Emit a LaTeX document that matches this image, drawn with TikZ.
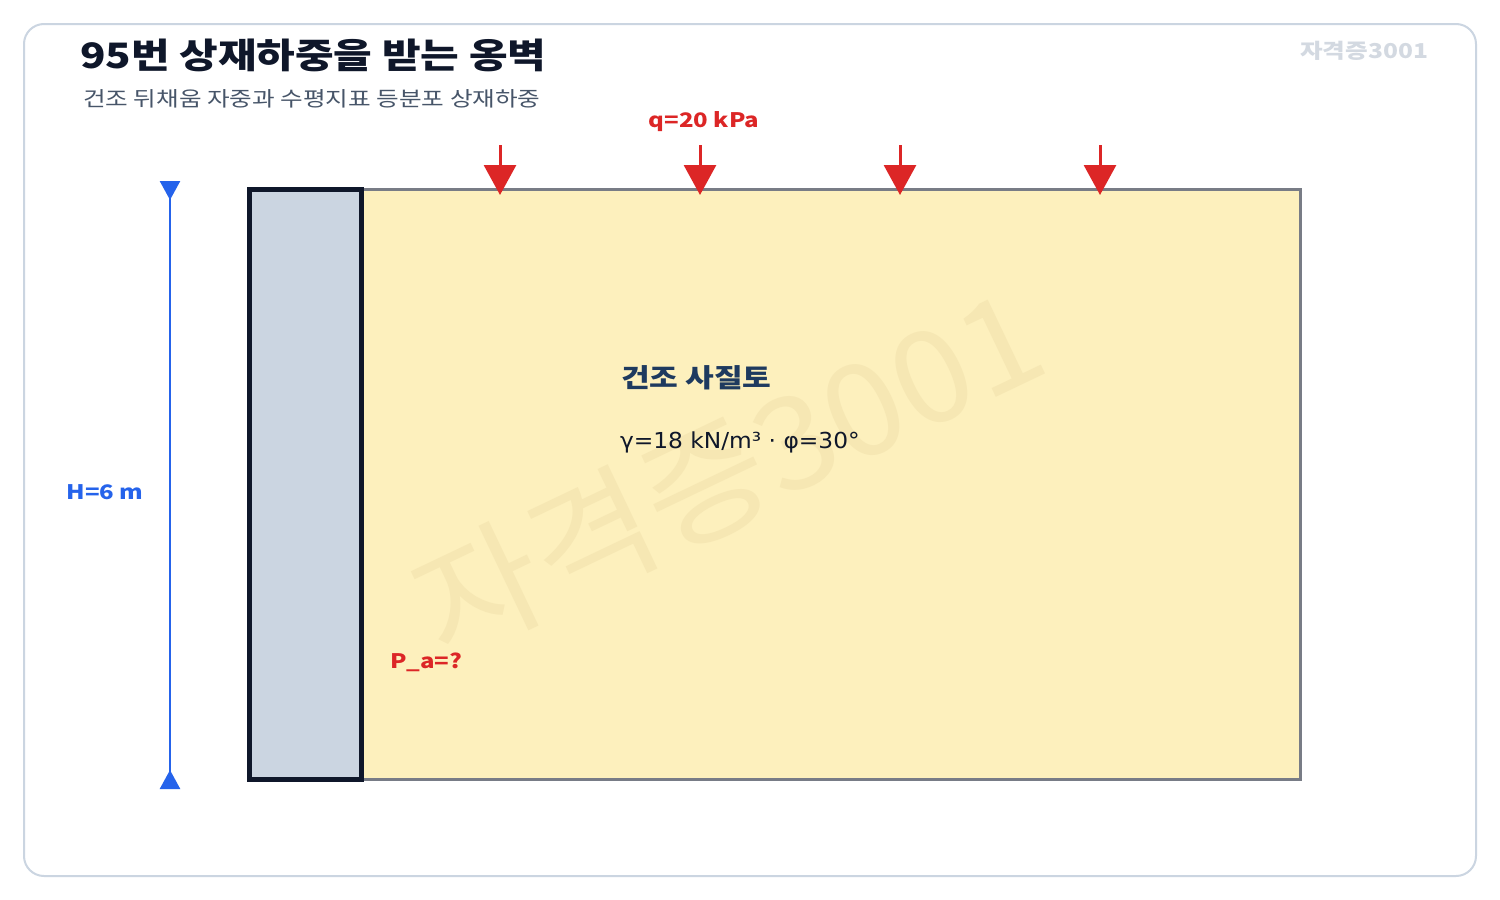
\documentclass[tikz,border=0pt]{standalone}
\usepackage{fontspec}
\setmainfont{Noto Sans CJK KR}[FakeStretch=1.2]
\newfontfamily\wmfont{Noto Sans CJK KR}[FakeStretch=1.06]
\newfontfamily\propfont{DejaVu Sans}[FakeStretch=1.06]
\usetikzlibrary{arrows.meta}
\definecolor{frameC}{HTML}{CBD5E1}
\definecolor{titleC}{HTML}{0F172A}
\definecolor{subC}{HTML}{475569}
\definecolor{wallC}{HTML}{CBD5E1}
\definecolor{soilC}{HTML}{FDF0BD}
\definecolor{soilE}{HTML}{787C86}
\definecolor{loadC}{HTML}{DC2626}
\definecolor{dimC}{HTML}{2563EB}
\definecolor{navyC}{HTML}{1E3A5F}
\definecolor{wmC}{HTML}{F6E7B3}
\definecolor{wmTop}{HTML}{D3D9E1}
\tikzset{
  loadarrow/.style={draw=loadC, line width=3pt, -{Triangle[width=32pt,length=30pt,fill=loadC]}},
  dimline/.style={draw=dimC, line width=2.5pt, {Triangle[reversed,width=20pt,length=19pt]}-{Triangle[reversed,width=20pt,length=19pt]}},
  lbl/.style={inner sep=0pt, outer sep=0pt},
}
\begin{document}
\begin{tikzpicture}[x=1pt,y=-1pt]
\useasboundingbox (0,0) rectangle (1500,900);
\fill[white] (0,0) rectangle (1500,900);
\draw[frameC, line width=2pt, rounded corners=20pt] (24,24) rectangle (1476,876);
% titles
\node[lbl, anchor=base west, font=\fontsize{35}{40}\selectfont\bfseries, text=titleC] (title) at (80,68) {95번 상재하중을 받는 옹벽};
\node[lbl, anchor=base west, font=\fontsize{20.5}{24}\selectfont, text=subC] (sub) at (83,106) {건조 뒤채움 자중과 수평지표 등분포 상재하중};
\node[lbl, anchor=east, font=\fontsize{20.5}{26}\selectfont\bfseries, text=wmTop] (wm1) at (1428,51) {자격증3001};
% soil and wall
\filldraw[fill=soilC, draw=soilE, line width=3pt] (361,189) rectangle (1300,779);
\node[lbl, rotate=25.5, font=\wmfont\fontsize{128}{130}\selectfont, text=wmC] (wm2) at (728,472) {자격증3001};
\filldraw[fill=wallC, draw=titleC, line width=5pt] (249,189) rectangle (361,779);
% loads
\foreach \x [count=\i] in {500,700,900,1100}{
  \coordinate (ls\i) at (\x,145);
  \coordinate (le\i) at (\x,195);
  \draw[loadarrow] (ls\i) -- (le\i);
}
\node[lbl, font=\fontsize{20}{24}\selectfont\bfseries, text=loadC] (q) at (704,122) {q=20 kPa};
% dimension
\coordinate (dT) at (170,181);
\coordinate (dB) at (170,789);
\draw[dimline] (dT) -- (dB);
\node[lbl, font=\fontsize{20}{24}\selectfont\bfseries, text=dimC] (H) at (105,492) {H=6 m};
% soil labels
\node[lbl, anchor=west, font=\fontsize{26}{30}\selectfont\bfseries, text=navyC] (soil) at (621,378) {건조 사질토};
\node[lbl, anchor=west, font=\propfont\fontsize{22}{26}\selectfont, text=titleC] (prop) at (620,442) {γ=18 kN/m³ · φ=30°};
\node[lbl, anchor=west, font=\fontsize{20}{24}\selectfont\bfseries, text=loadC] (pa) at (390,662) {P\_a=?};
\end{tikzpicture}
\end{document}
